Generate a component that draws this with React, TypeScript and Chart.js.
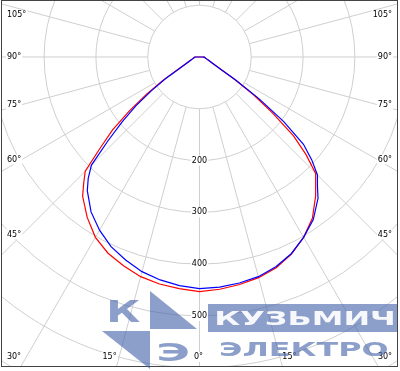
import React, { useEffect, useRef } from "react";
import { Chart, registerables } from "chart.js";

Chart.register(...registerables);

// Polar angles in degrees measured from nadir (negative = left half-plane)
const angles = [-95, -90, -85, -80, -75, -70, -65, -60, -57.5, -55, -52.5, -50, -47.5, -45, -42.5, -40, -35, -30, -25, -20, -15, -10, -5, 0, 5, 10, 15, 20, 25, 30, 35, 40, 42.5, 45, 47.5, 50, 52.5, 55, 57.5, 60, 65, 70, 75, 80, 85, 90, 95];
// Luminous intensity (cd) for the two planes
const redValues = [0, 9, 10, 11.5, 14, 18.5, 27, 49, 84, 124, 170, 219, 260, 312, 331, 351, 378, 402, 418, 429, 439, 445, 449, 453, 450, 446, 441, 433, 420, 402, 380, 349, 331, 318, 279, 237, 178, 128, 80, 47, 27, 18.5, 14, 11.5, 10, 9, 0];
const blueValues = [0, 9, 10, 11.5, 14, 18, 26, 46, 78, 113, 155, 195, 240, 295, 318, 337, 365, 386, 404, 417, 429, 437, 443, 447, 446, 443, 439, 431, 419, 402, 383, 356, 337, 322, 294, 262, 205, 140, 82, 48, 27, 18.5, 14, 11.5, 10, 9, 0];

// Grid
const ringValues = [100, 200, 300, 400, 500, 600, 700];
const ringLabelValues = [200, 300, 400, 500];
const spokeAngles = [0, 15, 30, 45, 60, 75, 90, 105, 120, 135, 150, 165, 180, 195, 210, 225, 240, 255, 270, 285, 300, 315, 330, 345];
const angleLabelValues = [0, 15, 30, 45, 60, 75, 90, 105];

// Logo texts
const logoLetterK = "К";
const logoLetterE = "Э";
const logoWord1 = "Кузьмич";
const logoWord2 = "Электро";

const RAD = Math.PI / 180;
const FONT = "8px 'DejaVu Sans', sans-serif";

const toPoints = (vals: number[]) =>
  angles.map((a, i) => ({
    x: vals[i] * Math.sin(a * RAD),
    y: -vals[i] * Math.cos(a * RAD),
  }));

function labelBox(ctx: CanvasRenderingContext2D, text: string, x: number, y: number, align: CanvasTextAlign) {
  ctx.font = FONT;
  const w = ctx.measureText(text).width;
  let lx = x;
  if (align === "center") lx = x - w / 2;
  else if (align === "right") lx = x - w;
  ctx.fillStyle = "#ffffff";
  ctx.fillRect(lx - 1, y - 5, w + 2, 10);
  ctx.fillStyle = "#000000";
  ctx.textAlign = align;
  ctx.textBaseline = "middle";
  ctx.fillText(text, x, y);
}

const polarGrid = {
  id: "polarGrid",
  beforeDatasetsDraw(chart: any) {
    const { ctx, chartArea, scales } = chart;
    const xs = scales.x;
    const ys = scales.y;
    const xc = xs.getPixelForValue(0);
    const yc = ys.getPixelForValue(0);
    const k = xs.getPixelForValue(100) - xc;
    const { left, right, top, bottom } = chartArea;
    ctx.save();
    ctx.beginPath();
    ctx.rect(left, top, right - left, bottom - top);
    ctx.clip();
    ctx.strokeStyle = "#cfcfcf";
    ctx.lineWidth = 1;
    ringValues.forEach((v) => {
      ctx.beginPath();
      ctx.arc(xc, yc, (v * k) / 100, 0, Math.PI * 2);
      ctx.stroke();
    });
    const r0 = ringValues[0];
    spokeAngles.forEach((a) => {
      const s = Math.sin(a * RAD);
      const c = Math.cos(a * RAD);
      ctx.beginPath();
      ctx.moveTo(xs.getPixelForValue(r0 * s), ys.getPixelForValue(-r0 * c));
      ctx.lineTo(xs.getPixelForValue(1000 * s), ys.getPixelForValue(-1000 * c));
      ctx.stroke();
    });
    // ring labels
    ringLabelValues.forEach((v) => {
      labelBox(ctx, String(v), xc, ys.getPixelForValue(-v), "center");
    });
    // angle labels
    const halfW = xc - left;
    const downH = bottom - yc;
    angleLabelValues.forEach((a) => {
      const text = a + "°";
      const sides = a === 0 ? [0] : [-1, 1];
      sides.forEach((side) => {
        const t = Math.tan(a * RAD);
        const hitsSide = a >= 90 || t > halfW / downH;
        if (hitsSide) {
          const dx = halfW - 20;
          let y = yc + (dx * Math.cos(a * RAD)) / Math.sin(a * RAD);
          y = Math.max(top + 14, y);
          if (side < 0) labelBox(ctx, text, left + 5, y, "left");
          else labelBox(ctx, text, right - 5, y, "right");
        } else {
          const y = bottom - 9;
          if (side === 0) labelBox(ctx, text, xc - 1, y, "center");
          else {
            const xb = xc + side * downH * t;
            labelBox(ctx, text, xb, y, side < 0 ? "right" : "left");
          }
        }
      });
    });
    ctx.restore();
  },
  afterDraw(chart: any) {
    const { ctx, chartArea } = chart;
    const { left, right, top, bottom } = chartArea;
    ctx.save();
    ctx.strokeStyle = "#444444";
    ctx.lineWidth = 1;
    ctx.strokeRect(left - 0.5, top - 0.5, right - left + 1, bottom - top + 1);

    // watermark logo
    const blue = "rgba(70,100,170,0.62)";
    const fitText = (text: string, x: number, yTop: number, w: number, h: number, color: string) => {
      ctx.font = "bold 100px 'DejaVu Sans', sans-serif";
      ctx.textAlign = "left";
      ctx.textBaseline = "alphabetic";
      const m = ctx.measureText(text);
      const mw = m.actualBoundingBoxLeft + m.actualBoundingBoxRight;
      const mh = m.actualBoundingBoxAscent;
      const sx = w / mw;
      const sy = h / mh;
      ctx.save();
      ctx.translate(x + m.actualBoundingBoxLeft * sx, yTop + h);
      ctx.scale(sx, sy);
      ctx.fillStyle = color;
      ctx.fillText(text, 0, 0);
      ctx.restore();
    };
    ctx.fillStyle = blue;
    // upper triangle
    ctx.beginPath();
    ctx.moveTo(150, 291);
    ctx.lineTo(197, 329);
    ctx.lineTo(150, 329);
    ctx.closePath();
    ctx.fill();
    // lower triangle
    ctx.beginPath();
    ctx.moveTo(102, 331);
    ctx.lineTo(150, 331);
    ctx.lineTo(150, 369);
    ctx.closePath();
    ctx.fill();
    fitText(logoLetterK, 110, 300, 30, 22, blue);
    fitText(logoLetterE, 159, 342, 29, 19, blue);
    ctx.fillStyle = blue;
    ctx.fillRect(208, 304, 189, 28);
    fitText(logoWord1.toUpperCase(), 217, 311, 176, 14, "rgba(255,255,255,0.92)");
    fitText(logoWord2.toUpperCase(), 221, 341, 166, 15, blue);
    ctx.restore();
  },
};

export default function App() {
  const ref = useRef<HTMLCanvasElement | null>(null);
  useEffect(() => {
    if (!ref.current) return;
    const chart = new Chart(ref.current, {
      type: "scatter",
      data: {
        datasets: [
          {
            label: "C90-C270",
            data: toPoints(blueValues),
            showLine: true,
            borderColor: "#0000ff",
            backgroundColor: "#0000ff",
            borderWidth: 1.2,
            pointRadius: 0,
            fill: false,
            tension: 0,
          },
          {
            label: "C0-C180",
            data: toPoints(redValues),
            showLine: true,
            borderColor: "#ff0000",
            backgroundColor: "#ff0000",
            borderWidth: 1.2,
            pointRadius: 0,
            fill: false,
            tension: 0,
          },
        ],
      },
      options: {
        responsive: false,
        animation: false,
        events: [],
        layout: { padding: { left: 2, top: 1, right: 3, bottom: 5 } },
        plugins: { legend: { display: false }, tooltip: { enabled: false } },
        scales: {
          x: { type: "linear", min: -381.3, max: 381.3, display: false },
          y: { type: "linear", min: -596.5, max: 108.1, display: false },
        },
      },
      plugins: [polarGrid],
    });
    return () => chart.destroy();
  }, []);
  return (
    <div style={{ position: "fixed", left: 0, top: 0, width: 400, height: 371, background: "#ffffff" }}>
      <canvas ref={ref} width={400} height={371} style={{ display: "block" }} />
    </div>
  );
}
